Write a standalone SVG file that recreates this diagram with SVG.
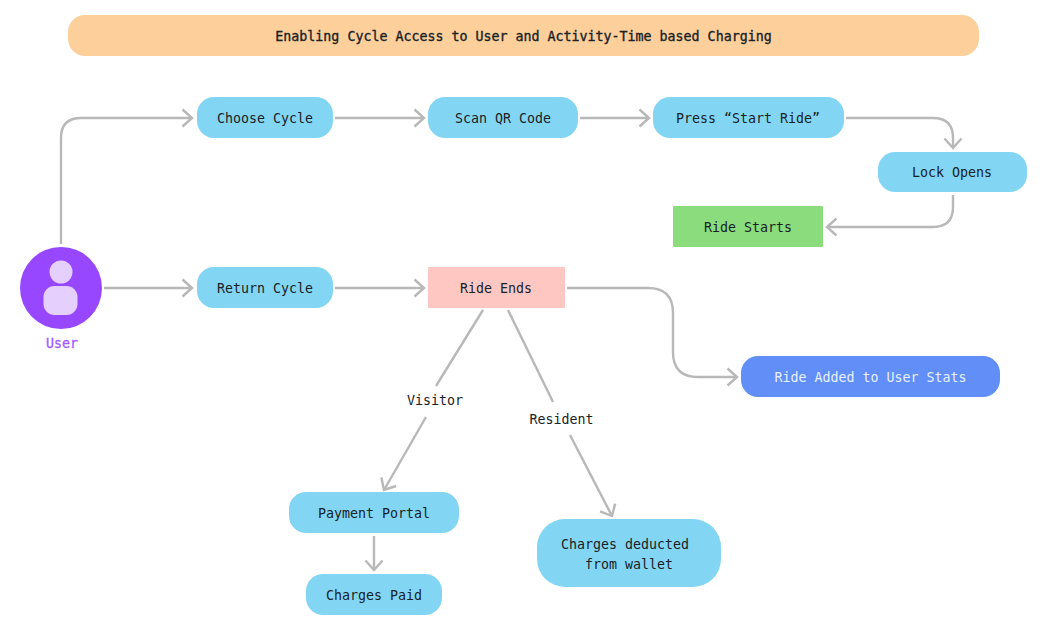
<svg xmlns="http://www.w3.org/2000/svg" width="1054" height="638" viewBox="0 0 1054 638">
<style>
.t{font-family:"DejaVu Sans Mono","Liberation Mono",monospace;font-size:13.3px;fill:#1a2226;text-anchor:middle}
.b{fill:#82d6f4}
.c{fill:none;stroke:#b8b8b8;stroke-width:2.4}
</style>
<defs>
<marker id="arr" viewBox="-12 -10 15 20" refX="0" refY="0" markerWidth="15" markerHeight="20" markerUnits="userSpaceOnUse" orient="auto">
<path d="M-9.500-8.500 0 0-9.500 8.500" fill="none" stroke="#b8b8b8" stroke-width="2.4"/>
</marker>
</defs>
<rect width="1054" height="638" fill="#fff"/>
<g id="title"><rect x="68" y="15" width="911" height="41" rx="17" fill="#fdd09b"/><text class="t" x="523.500" y="41" style="stroke:#1a2226;stroke-width:.35">Enabling Cycle Access to User and Activity-Time based Charging</text></g>
<g id="connectors">
<path class="c" marker-end="url(#arr)" d="M61 244V138Q61 118 81 118H192"/>
<path class="c" marker-end="url(#arr)" d="M335 118H424"/>
<path class="c" marker-end="url(#arr)" d="M580 118H649"/>
<path class="c" marker-end="url(#arr)" d="M846 118H933Q953 118 953 138V148"/>
<path class="c" marker-end="url(#arr)" d="M953 195V207Q953 227 933 227H827"/>
<path class="c" marker-end="url(#arr)" d="M104 288H192"/>
<path class="c" marker-end="url(#arr)" d="M335 288H424"/>
<path class="c" marker-end="url(#arr)" d="M567 288H648Q673 288 673 313V352Q673 377 698 377H737"/>
<path class="c" d="M483 310 436 386"/>
<path class="c" marker-end="url(#arr)" d="M426 417 384 490"/>
<path class="c" d="M508 310 553 402"/>
<path class="c" marker-end="url(#arr)" d="M570 435 612 516"/>
<path class="c" marker-end="url(#arr)" d="M374 536V570"/>
</g>
<g id="user"><circle cx="61" cy="288" r="41" fill="#9747ff"/><circle cx="61" cy="272" r="11.500" fill="#e5cffd"/><rect x="43.500" y="286" width="34" height="29" rx="11" fill="#e5cffd"/><text x="62" y="348" text-anchor="middle" style="font-family:'DejaVu Sans Mono',monospace;font-size:13.3px;fill:#a259ff;stroke:#a259ff;stroke-width:.3">User</text></g>
<g id="choose-cycle"><rect class="b" x="197" y="97" width="136" height="41" rx="17"/><text class="t" x="265" y="123">Choose Cycle</text></g>
<g id="scan-qr"><rect class="b" x="428" y="97" width="150" height="41" rx="17"/><text class="t" x="503" y="123">Scan QR Code</text></g>
<g id="press-start"><rect class="b" x="653" y="97" width="191" height="41" rx="17"/><text class="t" x="748" y="123">Press “Start Ride”</text></g>
<g id="lock-opens"><rect class="b" x="878" y="152" width="149" height="40" rx="17"/><text class="t" x="952" y="177">Lock Opens</text></g>
<g id="ride-starts"><rect x="673" y="206" width="150" height="41" rx="1" fill="#8adc7c"/><text class="t" x="748" y="232">Ride Starts</text></g>
<g id="return-cycle"><rect class="b" x="197" y="267" width="136" height="41" rx="17"/><text class="t" x="265" y="293">Return Cycle</text></g>
<g id="ride-ends"><rect x="428" y="267" width="137" height="41" rx="1" fill="#ffc7c2"/><text class="t" x="496" y="293">Ride Ends</text></g>
<g id="ride-added"><rect x="741" y="356" width="259" height="41" rx="17" fill="#628ff7"/><text class="t" x="870.500" y="382" style="fill:#e8f0ff">Ride Added to User Stats</text></g>
<g id="visitor"><text class="t" x="435" y="405">Visitor</text></g>
<g id="resident"><text class="t" x="561.500" y="424">Resident</text></g>
<g id="payment-portal"><rect class="b" x="289" y="492" width="170" height="41" rx="17"/><text class="t" x="374" y="518">Payment Portal</text></g>
<g id="charges-paid"><rect class="b" x="306" y="574" width="136" height="41" rx="17"/><text class="t" x="374" y="600">Charges Paid</text></g>
<g id="charges-deducted"><rect class="b" x="537" y="519" width="184" height="68" rx="28"/><text class="t" x="625" y="549">Charges deducted</text><text class="t" x="629" y="569">from wallet</text></g>
</svg>
